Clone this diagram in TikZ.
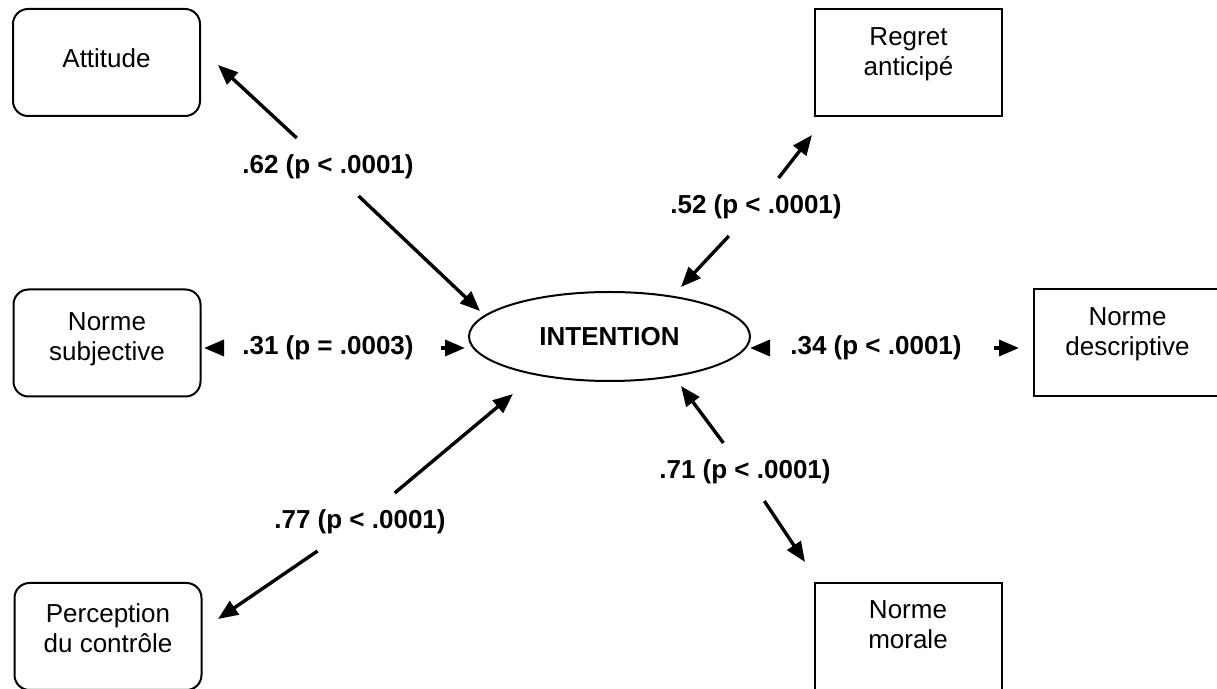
\documentclass[tikz,border=0pt]{standalone}
\usepackage{fontspec}
\setmainfont{Liberation Sans}
\usetikzlibrary{arrows.meta,shapes.geometric}

% box text: first baseline at #1 from the top of the box
\newcommand{\boxtxt}[2]{\parbox[c][53.5pt][t]{90pt}{\centering\rule{0pt}{#1}#2}}

\begin{document}
\begin{tikzpicture}[
        % global settings: one unit = one pixel of the reference
        x=0.5pt, y=-0.5pt,
        % variable box
        var_box/.style={
            draw=black,
            line width=1pt,
            minimum width=93.5pt,
            minimum height=53.5pt,
            inner sep=0pt,
            font=\fontsize{13}{15}\selectfont
        },
        % left column: rounded corners
        round_box/.style={
            var_box,
            rounded corners=7.5pt
        },
        % right column: square corners
        square_box/.style={
            var_box
        },
        % central ellipse
        intention_node/.style={
            ellipse,
            draw=black,
            line width=1pt,
            minimum width=140.5pt,
            minimum height=44.5pt,
            inner sep=0pt,
            font=\fontsize{13}{15}\selectfont\bfseries
        },
        % coefficient labels
        coef_label/.style={
            inner xsep=10pt,
            inner ysep=8.4pt,
            outer sep=0pt,
            text height=9.5pt,
            text depth=2.7pt,
            font=\fontsize{13}{15}\selectfont\bfseries
        },
        % arrows
        path_arrow/.style={
            -{Triangle[length=10pt,width=8pt]},
            line width=1.7pt
        }
    ]
        \useasboundingbox (0,0) rectangle (1217,689);

        % ==========================
        % Nodes
        % ==========================
        % 1. left column
        \node[round_box] (att)  at (106.5,62.5) {\boxtxt{29.5pt}{Attitude}};
        \node[round_box] (subj) at (107,343)    {\boxtxt{20.5pt}{Norme\\subjective}};
        \node[round_box] (perc) at (108,636.5)  {\boxtxt{20pt}{Perception\\du contrôle}};

        % 2. right column
        \node[square_box] (regr) at (908.5,62.5) {\boxtxt{18.5pt}{Regret\\anticipé}};
        \node[square_box] (desc) at (1127.5,343) {\boxtxt{18pt}{Norme\\descriptive}};
        \node[square_box] (mor)  at (908,636.5)  {\boxtxt{18pt}{Norme\\morale}};

        % 3. centre
        \node[intention_node] (int) at (609.5,336.5) {\raisebox{-1pt}{INTENTION}};

        % ==========================
        % Coefficients
        % ==========================
        \node[coef_label] (c62) at (328,167) {.62 (p < .0001)};
        \node[coef_label] (c52) at (756,207) {.52 (p < .0001)};
        \node[coef_label] (c31) at (328,348) {.31 (p = .0003)};
        \node[coef_label] (c34) at (876,348) {.34 (p < .0001)};
        \node[coef_label] (c77) at (360,522) {.77 (p < .0001)};
        \node[coef_label] (c71) at (745,472) {.71 (p < .0001)};

        % arrow tips next to the boxes
        \coordinate (tAtt)  at (218,65);
        \coordinate (tRegr) at (812,135);
        \coordinate (tSubj) at (204,348);
        \coordinate (tDesc) at (1019,348);
        \coordinate (tPerc) at (218,619);
        \coordinate (tMor)  at (805,562);

        % arrow tips next to the ellipse
        \coordinate (iAtt)  at (480,311);
        \coordinate (iRegr) at (681,287);
        \coordinate (iSubj) at (465,348);
        \coordinate (iDesc) at (750,348);
        \coordinate (iPerc) at (513,394);
        \coordinate (iMor)  at (681,386);

        % ==========================
        % Arrows (both ways from each coefficient)
        % ==========================
        \foreach \c/\t/\i in {c62/tAtt/iAtt, c52/tRegr/iRegr, c77/tPerc/iPerc, c71/tMor/iMor} {
            \draw[path_arrow] (\c) -- (\t);
            \draw[path_arrow] (\c) -- (\i);
        }
        \draw[path_arrow] (c31) -- (tSubj);
        \draw[path_arrow, shorten <=3.5pt] (c31) -- (iSubj);
        \draw[path_arrow] (c34) -- (iDesc);
        \draw[path_arrow, shorten <=6pt] (c34) -- (tDesc);

\end{tikzpicture}
\end{document}
